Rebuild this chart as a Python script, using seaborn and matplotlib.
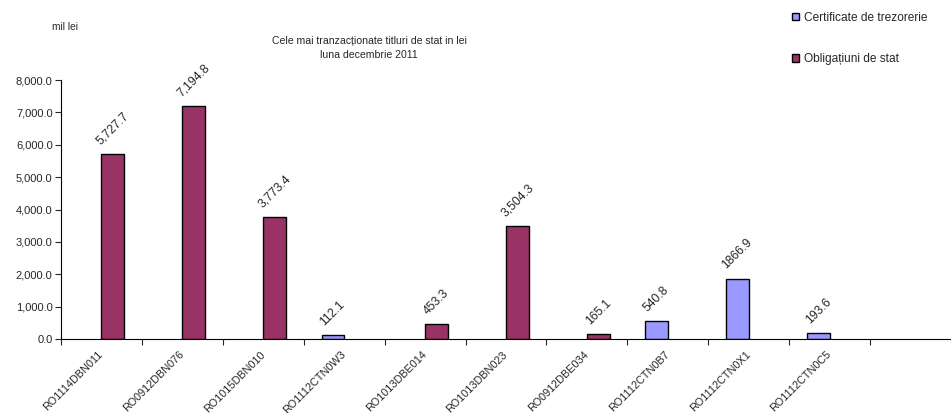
import numpy as np
import pandas as pd
import seaborn as sns
import matplotlib.pyplot as plt

# values (mil lei)
categories = ["RO1114DBN011", "RO0912DBN076", "RO1015DBN010", "RO1112CTN0W3",
              "RO1013DBE014", "RO1013DBN023", "RO0912DBE034", "RO1112CTN0B7",
              "RO1112CTN0X1", "RO1112CTN0C5"]
series_of = ["Obligațiuni de stat", "Obligațiuni de stat", "Obligațiuni de stat",
             "Certificate de trezorerie", "Obligațiuni de stat", "Obligațiuni de stat",
             "Obligațiuni de stat", "Certificate de trezorerie",
             "Certificate de trezorerie", "Certificate de trezorerie"]
values = [5727.7, 7194.8, 3773.4, 112.1, 453.3, 3504.3, 165.1, 540.8, 1866.9, 193.6]

series_names = ["Certificate de trezorerie", "Obligațiuni de stat"]
series_colors = ["#9999FF", "#993366"]
yticks = np.arange(0, 8001, 1000)

data = pd.DataFrame({"titlu": categories, "tip": series_of, "valoare": values})
order = categories + [""]   # empty slot at the right end of the axis

sns.set_style("white")
plt.rcParams['font.family'] = ['Liberation Sans', 'DejaVu Sans']
plt.rcParams['font.size'] = 8

fig = plt.figure(figsize=(9.51, 4.13), dpi=100)
ax = fig.add_axes([61 / 951, 74 / 413, 890 / 951, 259 / 413])

sns.barplot(data=data, x="titlu", y="valoare", hue="tip", order=order,
            hue_order=series_names, palette=series_colors, width=0.56,
            dodge=True, edgecolor="black", linewidth=1, saturation=1, ax=ax)

# value labels, obligatiuni with thousands separator like the original
for name, cont in zip(series_names, ax.containers):
    if name.startswith("Oblig"):
        labs = ["{:,.1f}".format(b.get_height()) for b in cont]
    else:
        labs = ["{:.1f}".format(b.get_height()) for b in cont]
    ax.bar_label(cont, labels=labs, rotation=45, padding=5, fontsize=8.7)

ax.set_ylim(0, 8000)
ax.set_yticks(yticks)
ax.set_yticklabels(["{:,.1f}".format(v) for v in yticks])
ax.set_xlim(-0.5, len(order) - 0.5)

# tick marks between categories, labels under the centres
ax.set_xticks(np.arange(-0.5, len(order), 1))
ax.set_xticklabels([])
ax.set_xticks(np.arange(len(order)), minor=True)
ax.set_xticklabels(order, minor=True, rotation=45, ha="right", va="center",
                   rotation_mode="anchor")
ax.tick_params(axis="x", which="minor", length=0, pad=10, labelsize=7.8)
ax.tick_params(axis="x", which="major", length=4, width=0.8, direction="out",
               bottom=True)
ax.tick_params(axis="y", length=4, width=0.8, direction="out", left=True,
               pad=2, labelsize=8)

ax.set_xlabel("")
ax.set_ylabel("")
for s in ["top", "right"]:
    ax.spines[s].set_visible(False)
for s in ["left", "bottom"]:
    ax.spines[s].set_color("black")
    ax.spines[s].set_linewidth(0.8)

handles, labels = ax.get_legend_handles_labels()
ax.legend_.remove()
fig.legend(handles, labels, loc="upper left",
           bbox_to_anchor=(792 / 951, 1 - 12 / 413), frameon=False,
           handlelength=0.55, handleheight=0.55, handletextpad=0.45,
           labelspacing=2.45, borderpad=0, borderaxespad=0, fontsize=8.6)

fig.text(369 / 951, 1 - 36 / 413,
         "Cele mai tranzacționate titluri de stat in lei\nluna decembrie 2011",
         ha="center", va="top", fontsize=7.6, linespacing=1.45)
fig.text(52 / 951, 1 - 27 / 413, "mil lei", ha="left", va="center", fontsize=7.3)

fig.savefig("out.png", dpi=100)
